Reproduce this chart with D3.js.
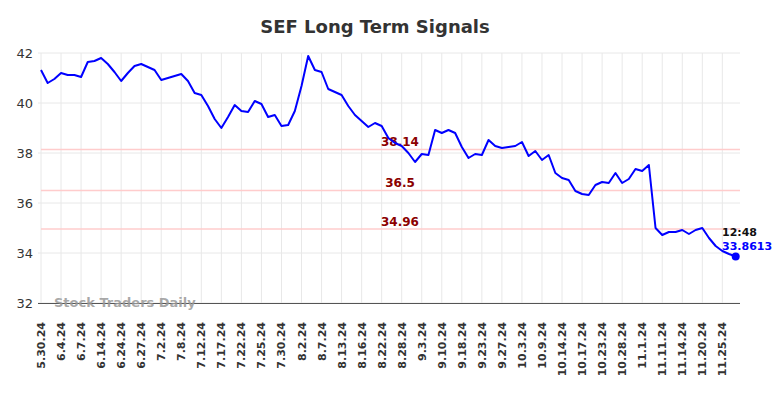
<!DOCTYPE html>
<html><head><meta charset="utf-8">
<script src="https://cdn.jsdelivr.net/npm/d3@7"></script>
<style>body{margin:0;background:#fff;}svg{display:block;font-family:"DejaVu Sans",sans-serif;}</style>
</head><body><svg id="c" width="784" height="398"></svg>
<script>
const tickLabels = ["5.30.24","6.4.24","6.7.24","6.14.24","6.24.24","6.27.24","7.2.24","7.8.24","7.12.24","7.17.24","7.22.24","7.25.24","7.30.24","8.2.24","8.7.24","8.13.24","8.16.24","8.22.24","8.28.24","9.3.24","9.10.24","9.18.24","9.23.24","9.27.24","10.3.24","10.9.24","10.14.24","10.17.24","10.23.24","10.28.24","11.1.24","11.11.24","11.14.24","11.20.24","11.25.24"];
const prices = [41.32,40.8,40.96,41.2,41.12,41.12,41.04,41.64,41.68,41.8,
41.56,41.24,40.88,41.2,41.48,41.56,41.44,41.32,40.92,41.0,
41.08,41.16,40.88,40.4,40.32,39.88,39.36,39.0,39.44,39.92,
39.68,39.64,40.08,39.96,39.44,39.52,39.08,39.12,39.68,40.68,
41.88,41.32,41.24,40.56,40.44,40.32,39.88,39.52,39.28,39.04,
39.2,39.08,38.6,38.4,38.28,38.0,37.64,37.96,37.92,38.92,
38.8,38.92,38.8,38.24,37.8,37.96,37.92,38.52,38.28,38.2,
38.24,38.28,38.44,37.88,38.08,37.72,37.92,37.2,37.0,36.92,
36.48,36.36,36.32,36.72,36.84,36.8,37.2,36.8,36.96,37.36,
37.28,37.52,35.0,34.72,34.84,34.84,34.92,34.76,34.92,35.0,
34.6,34.28,34.08,33.96,33.8613];
const levels = [38.14, 36.5, 34.96];
const yTicks = [32,34,36,38,40,42];
const lastTime = "12:48";
const lastValue = "33.8613";

const svg = d3.select("#c");
const x = d3.scaleLinear().domain([0, prices.length-1]).range([41, 735.7]);
const y = d3.scaleLinear().domain([32, 42]).range([303, 53]);
const left = 41, right = 740;

svg.append("text").attr("x",375).attr("y",33).attr("text-anchor","middle")
  .attr("font-size",18).attr("font-weight","bold").attr("fill","#333").text("SEF Long Term Signals");

// grid
const tickIdx = tickLabels.map((d,i)=>i*3);
svg.append("g").selectAll("line").data(tickIdx).join("line")
  .attr("x1",d=>x(d)).attr("x2",d=>x(d)).attr("y1",53).attr("y2",303)
  .attr("stroke","#e8e8e8").attr("stroke-width",1);
svg.append("g").selectAll("line").data(yTicks).join("line")
  .attr("x1",left-3).attr("x2",right).attr("y1",d=>y(d)).attr("y2",d=>y(d))
  .attr("stroke","#e8e8e8").attr("stroke-width",1);

// y labels
svg.append("g").selectAll("text").data(yTicks).join("text")
  .attr("x",33).attr("y",d=>y(d)+5).attr("text-anchor","end")
  .attr("font-size",13).attr("fill","#333").text(d=>d);

// levels
svg.append("g").selectAll("line").data(levels).join("line")
  .attr("x1",left).attr("x2",right).attr("y1",d=>y(d)).attr("y2",d=>y(d))
  .attr("stroke","#ffcccc").attr("stroke-width",1.5);
svg.append("g").selectAll("text").data(levels).join("text")
  .attr("x",400).attr("y",d=>y(d)-3.5).attr("text-anchor","middle")
  .attr("font-size",12).attr("font-weight","bold").attr("fill","#8b0000").text(d=>d);

// axis line
svg.append("line").attr("x1",left-3).attr("x2",right).attr("y1",303.5).attr("y2",303.5)
  .attr("stroke","#555").attr("stroke-width",1);

// watermark
svg.append("text").attr("x",54).attr("y",307).attr("font-size",13).attr("font-weight","bold")
  .attr("fill","#999").attr("fill-opacity",0.85).text("Stock Traders Daily");

// x labels
svg.append("g").selectAll("text").data(tickLabels).join("text")
  .attr("transform",(d,i)=>`translate(${x(i*3)+4},322) rotate(-90)`)
  .attr("text-anchor","end").attr("font-size",11).attr("font-weight","bold")
  .attr("fill","#333").text(d=>d);

// line
svg.append("path").datum(prices)
  .attr("d", d3.line().x((d,i)=>x(i)).y(d=>y(d)))
  .attr("fill","none").attr("stroke","#0000ff").attr("stroke-width",2).attr("stroke-linejoin","round");

const li = prices.length-1;
svg.append("circle").attr("cx",x(li)).attr("cy",y(prices[li])).attr("r",4).attr("fill","#0000ff");
svg.append("text").attr("x",722).attr("y",236).attr("font-size",11).attr("font-weight","bold").attr("fill","#111").text(lastTime);
svg.append("text").attr("x",722).attr("y",250).attr("font-size",11).attr("font-weight","bold").attr("fill","#0000ff").text(lastValue);
</script></body></html>
